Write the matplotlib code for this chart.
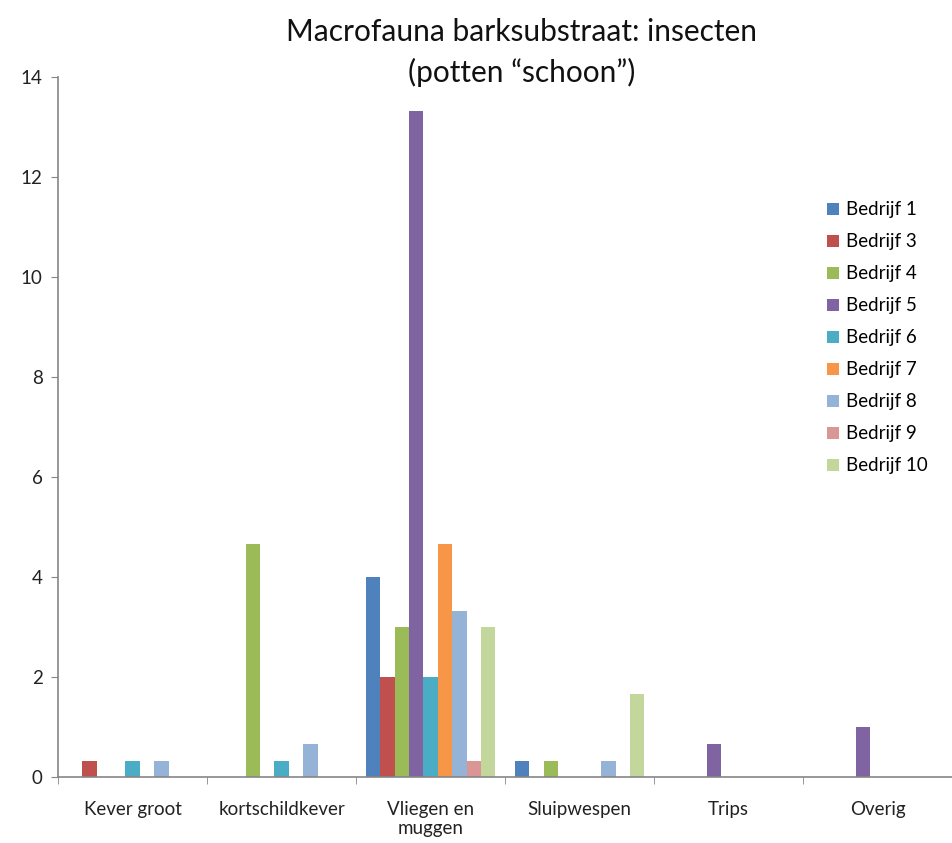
import matplotlib
matplotlib.use("Agg")
import matplotlib.pyplot as plt
import numpy as np

categories = ["Kever groot", "kortschildkever", "Vliegen en\nmuggen",
              "Sluipwespen", "Trips", "Overig"]
series_names = ["Bedrijf 1", "Bedrijf 3", "Bedrijf 4", "Bedrijf 5", "Bedrijf 6",
                "Bedrijf 7", "Bedrijf 8", "Bedrijf 9", "Bedrijf 10"]
bedrijf_1 = [0, 0, 4.0, 0.33, 0, 0]
bedrijf_3 = [0.33, 0, 2.0, 0, 0, 0]
bedrijf_4 = [0, 4.67, 3.0, 0.33, 0, 0]
bedrijf_5 = [0, 0, 13.33, 0, 0.67, 1.0]
bedrijf_6 = [0.33, 0.33, 2.0, 0, 0, 0]
bedrijf_7 = [0, 0, 4.67, 0, 0, 0]
bedrijf_8 = [0.33, 0.67, 3.33, 0.33, 0, 0]
bedrijf_9 = [0, 0, 0.33, 0, 0, 0]
bedrijf_10 = [0, 0, 3.0, 1.67, 0, 0]
colors = ["#4F81BD", "#C0504D", "#9BBB59", "#8064A2", "#4BACC6",
          "#F79646", "#95B3D7", "#D99694", "#C3D69B"]

all_series = [bedrijf_1, bedrijf_3, bedrijf_4, bedrijf_5, bedrijf_6,
              bedrijf_7, bedrijf_8, bedrijf_9, bedrijf_10]

plt.rcParams["font.family"] = ["Lato", "DejaVu Sans"]

fig = plt.figure(figsize=(9.52, 8.43), dpi=100)
ax = fig.add_axes([0.061, 0.078, 0.939, 0.8305])

x = np.arange(len(categories))
n = len(all_series)
bw = 0.0967
for i, (vals, name, c) in enumerate(zip(all_series, series_names, colors)):
    offs = (i - (n - 1) / 2) * bw
    ax.bar(x + offs, vals, width=bw, color=c, label=name, linewidth=0)

ax.set_ylim(0, 14)
ax.set_xlim(-0.5, -0.5 + 894 / 150)
ax.set_yticks(range(0, 15, 2))
ax.set_xticks(x)
ax.set_xticklabels(categories, fontsize=13.5, color="#222222", linespacing=1.15)
ax.set_xticks(np.arange(-0.5, len(categories), 1), minor=True)
ax.tick_params(axis="x", which="major", length=0, pad=17)
ax.tick_params(axis="x", which="minor", length=5, color="#868686")
ax.tick_params(axis="y", length=5, color="#868686", labelsize=13.5,
               labelcolor="#222222", pad=6)

for side in ["top", "right"]:
    ax.spines[side].set_visible(False)
for side in ["left", "bottom"]:
    ax.spines[side].set_color("#868686")
    ax.spines[side].set_linewidth(1.2)

fig.text(0.548, 0.962, "Macrofauna barksubstraat: insecten",
         ha="center", va="center", fontsize=21.5, color="#111111")
fig.text(0.548, 0.914, "(potten \u201cschoon\u201d)",
         ha="center", va="center", fontsize=21.5, color="#111111")

leg = ax.legend(loc="upper left", bbox_to_anchor=(0.851, 0.781),
                bbox_transform=fig.transFigure, frameon=False, fontsize=13.5,
                handlelength=0.65, handleheight=0.65, handletextpad=0.35,
                labelspacing=0.8)

fig.savefig("out.png", dpi=100)
